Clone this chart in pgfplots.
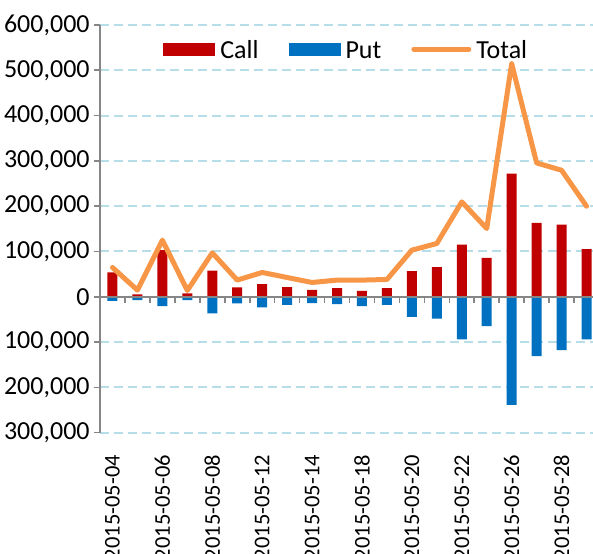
\documentclass[border=0pt]{standalone}
\usepackage{fontspec}
\setmainfont{Carlito}
\usepackage{pgfplots}
\pgfplotsset{compat=1.18}
\definecolor{callred}{HTML}{C00000}
\definecolor{putblue}{HTML}{0070C0}
\definecolor{totorange}{HTML}{F79646}
\definecolor{gridblue}{HTML}{B7DEE8}
\definecolor{axgray}{HTML}{868686}
\begin{document}
\begin{tikzpicture}[font=\fontsize{13}{15.6}\selectfont]
\begin{axis}[
  name=ax,
  scale only axis,
  width=249.5pt, height=203.85pt,
  xmin=-0.5, xmax=19.5,
  ymin=-300000, ymax=600000,
  enlargelimits=false,
  clip=false,
  ybar, bar width=5pt, bar shift=0pt,
  axis x line=bottom, axis y line=left,
  x axis line style={draw=none},
  y axis line style={draw=axgray, line width=0.8pt, -},
  xtick={0,2,...,18},
  xticklabels={2015-05-04,2015-05-06,2015-05-08,2015-05-12,2015-05-14,2015-05-18,2015-05-20,2015-05-22,2015-05-26,2015-05-28},
  major x tick style={draw=none},
  xticklabel style={rotate=90, anchor=east, inner sep=0pt, text=black, font=\fontsize{11.25}{13.5}\selectfont},
  xticklabel shift=9.5pt,
  ytick={-300000,-200000,...,600000},
  yticklabels={{300,000},{200,000},{100,000},0,{100,000},{200,000},{300,000},{400,000},{500,000},{600,000}},
  scaled y ticks=false,
  ytick align=outside,
  major y tick style={draw=axgray, line width=0.8pt},
  major tick length=3pt,
  yticklabel style={inner sep=0pt, text=black},
  yticklabel shift=2pt,
  ymajorgrids,
  major grid style={gridblue, line width=1pt, dash pattern=on 4.5pt off 2.5pt},
  legend columns=3,
  legend style={at={(0.126,0.941)}, anchor=west, draw=none, fill=none, inner sep=0pt,
    /tikz/every even column/.append style={column sep=12.5pt},
    nodes={inner xsep=2.5pt, inner ysep=0pt, text height=9pt, text depth=0pt}},
]
\addplot[fill=callred, draw=none,
  legend image code/.code={\fill[callred] (0pt,-3.25pt) rectangle (26pt,3.25pt);}]
  coordinates {(0,53700) (1,5100) (2,103000) (3,7400) (4,58000) (5,20600) (6,28000) (7,21300) (8,15400) (9,19100)
  (10,13200) (11,19100) (12,56600) (13,65400) (14,115400) (15,86000) (16,272000) (17,163200) (18,159500) (19,105100)};
\addlegendentry{Call}
\addplot[fill=putblue, draw=none,
  legend image code/.code={\fill[putblue] (0pt,-3.25pt) rectangle (26pt,3.25pt);}]
  coordinates {(0,-8800) (1,-7400) (2,-20600) (3,-7400) (4,-36800) (5,-14700) (6,-23500) (7,-17600) (8,-14000) (9,-16200)
  (10,-20600) (11,-17600) (12,-44100) (13,-48500) (14,-94100) (15,-64700) (16,-238900) (17,-130800) (18,-117600) (19,-94100)};
\addlegendentry{Put}
\draw[axgray, line width=0.8pt] (axis cs:-0.5,0) -- (axis cs:19.5,0);
\pgfplotsinvokeforeach{0.5,1.5,...,18.5}{\draw[axgray, line width=0.8pt] (axis cs:#1,0) -- ([yshift=-3pt]axis cs:#1,0);}
\addplot[sharp plot, totorange, line width=2.5pt, line join=round, line cap=round,
  legend image code/.code={\draw[totorange, line width=2.5pt, line cap=round] (0pt,0pt) -- (27.5pt,0pt);}]
  coordinates {(0,64700) (1,14700) (2,125000) (3,14000) (4,97000) (5,36800) (6,53700) (7,42600) (8,31600) (9,36800)
  (10,36800) (11,38200) (12,103000) (13,117600) (14,209500) (15,150700) (16,514500) (17,295500) (18,279300) (19,200000)};
\addlegendentry{Total}
\end{axis}
\pgfresetboundingbox
\path ([xshift=-50pt,yshift=12.5pt]ax.north west) rectangle ([xshift=246.5pt,yshift=-60.65pt]ax.south west);
\end{tikzpicture}
\end{document}
